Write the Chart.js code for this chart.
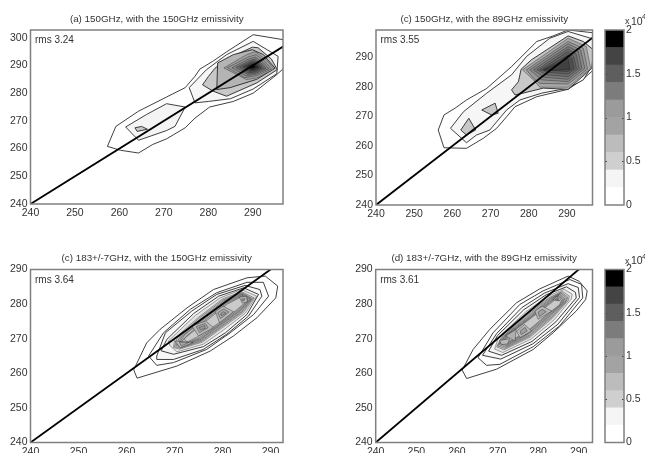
<!DOCTYPE html>
<html><head><meta charset="utf-8">
<script src="https://cdn.jsdelivr.net/npm/chart.js@4"></script>
<style>
html,body{margin:0;padding:0;background:#fff;width:645px;height:453px;overflow:hidden}
canvas{position:absolute;filter:blur(0.5px)}
</style></head><body>
<script>
const xTicks=[240,250,260,270,280,290];
const yTicksA=[240,250,260,270,280,290,300];
const yTicksB=[240,250,260,270,280,290];
const cbarEdges=[0,0.2,0.4,0.6,0.8,1,1.2,1.4,1.6,1.8,2];
const cbarGrays=['#ffffff','#f5f5f5','#cfcfcf','#bcbcbc','#a3a3a3','#9b9b9b','#7c7c7c','#5e5e5e','#444444','#000000'];
const cbarTicks=[0,0.5,1,1.5,2];
const identity=[[240,240],[300,300]];

const panelAContours=[
[[257.3,260.8],[259.2,268],[264.3,273.5],[270.6,278.6],[274.8,282],[277,286.1],[278.1,288.7],[281,291.5],[284.1,294.9],[290.1,301.1],[298,299],[298,290.5],[295.4,286.7],[290.1,280],[285.6,277],[280.3,275],[277,271],[274.8,267.5],[270.6,263.5],[267.5,261.5],[264.3,258.4],[260.2,259.4]],
[[275.7,282],[277.5,285],[279.6,288.5],[284.1,293.9],[290.1,298.7],[295.7,293.3],[295.4,287],[290.1,281.5],[285,278],[280,277],[277,276.5]],
[[261.4,267.8],[266.1,272.3],[270.6,276.2],[274.8,275],[272.5,268],[270.6,266.5],[264.3,263]],
[[263.5,267.5],[265,268],[266.3,267],[264,266.2]],
[[278.7,283],[280,286],[281.5,289],[284.1,292.3],[289.9,296.6],[291.2,296.4],[294.2,292.3],[295.5,288.5],[290.9,283.7],[284.1,278.9],[281.1,280.7]],
[[281.9,281.3],[282.1,290.9],[285.6,293.9],[289.9,295.7],[292.4,293.9],[295,289],[290.9,285],[284.9,282]],
[[283.5,289.1],[288.6,293.9],[290.5,295],[293.1,292],[294.8,288.7],[290.9,285.5],[288.6,284.9]],
[[284.3,289.2],[289,293.1],[290.7,293.9],[292.7,291.5],[294.2,288.7],[290.9,286.3],[288.2,285.6]],
[[285.3,289.2],[289,292.3],[290.6,293],[292.4,291],[293.6,288.8],[290.8,286.8],[288.5,286.2]],
[[286.2,289.3],[289.2,291.7],[290.5,292.3],[292,290.7],[293,288.9],[290.7,287.2],[288.8,286.8]],
[[287,289.4],[289.3,291.2],[290.4,291.7],[291.7,290.4],[292.4,289],[290.6,287.6],[289,287.3]],
[[287.8,289.5],[289.5,290.8],[290.3,291.1],[291.4,290.2],[291.9,289.1],[290.5,288],[289.2,287.9]],
[[288.6,289.6],[289.7,290.4],[290.2,290.6],[291,290],[291.3,289.3],[290.4,288.5],[289.5,288.4]],
[[289.4,289.7],[290,290.2],[290.6,289.7],[290.2,289],[289.6,289]]
];
const panelAFills=['#ffffff','#f6f6f6','#f4f4f4','#c8c8c8','#c8c8c8','#b4b4b4','#a0a0a0','#989898','#888888','#747474','#606060','#484848','#2c2c2c','#000000'];

const panelBContours=[
[[256.3,265.4],[257.8,270.5],[260.7,272.8],[263.7,275.6],[269,279.5],[275.5,286.9],[282.1,295.4],[286.4,297.3],[290.3,299.3],[298,298.2],[298,287],[294.3,282.7],[290.3,279.2],[282.1,276.7],[276.4,273.3],[274.2,269.9],[271.6,266],[268.1,262.6],[263.7,259.2],[257.8,259.4]],
[[259.5,266],[262.9,271.6],[269,277.9],[275.5,284.1],[279.4,290.3],[285.5,296.5],[290.3,298.8],[297,296.2],[297,288],[294.3,282.4],[290.3,279.6],[283.4,277.9],[277.7,275.6],[274.2,272.2],[269.8,265.4],[266.3,263.7],[263.7,261.1]],
[[262.2,265.4],[264.3,269.4],[266.1,265.4],[263.7,263.7]],
[[267.7,272.2],[271.2,274.5],[272,271.1],[270.3,270.5]],
[[275.5,279],[277.3,281.8],[278,286],[280.7,289.2],[290.3,297.3],[294.3,295.4],[297,292.5],[296.5,286.3],[290.3,279.2],[283.8,279.6],[278.5,277.9],[276.4,277.3]],
[[278.4,285.8],[290.3,296.5],[295.1,293.7],[296.2,286.3],[290.3,279.9],[282.9,279.9],[281.2,282.4]],
[[279.4,285.8],[290.3,295.4],[294.3,293.1],[295.4,286.1],[290.3,281],[282.9,281.2],[281.2,283]],
[[280.3,285.8],[290.3,294.6],[293.6,292.5],[294.7,286.3],[290.3,281.8],[283.4,282.4]],
[[281.2,285.8],[290.3,293.7],[293,292],[293.9,286.3],[290.3,282.6],[284,283.3]],
[[282.1,285.8],[290.3,292.9],[292.4,291.2],[293.2,286.3],[290.3,283.5],[284.7,284.1]],
[[282.9,285.8],[290.3,292],[291.8,290.3],[292.5,286.3],[290.3,284.4],[285.5,284.9]],
[[283.6,285.8],[290.3,290.8],[291.3,289.7],[291.8,286.3],[290.3,285.2]],
[[284,285.8],[290.3,289.7],[290.8,286],[286.4,285.5]]
];
const panelBFills=['#ffffff','#f6f6f6','#c8c8c8','#c8c8c8','#c8c8c8','#a8a8a8','#989898','#8a8a8a','#7c7c7c','#6e6e6e','#606060','#505050','#404040'];

const panelCContours=[
[[261.5,261],[264.2,268.8],[267,272.7],[272.6,278.9],[278.1,284.2],[285.1,287.6],[288.9,288.1],[291.5,285.2],[291.1,281.8],[287.2,276.1],[282.3,270.8],[277.4,266.4],[270.5,262.1],[262.2,258.6]],
[[264.6,265],[267.7,271.7],[273.3,278.5],[278.8,283.3],[285.1,286.3],[288.5,286.3],[289.6,282.3],[286.5,277],[281.6,271.7],[276.7,266.9],[269.8,263.1],[266.3,262.3]],
[[266.3,265],[268.1,271.7],[273.6,278],[278.8,282.8],[284.7,285.4],[287.8,284.2],[288.2,282.3],[285.4,276.5],[280.9,271.3],[276,266.9],[269.8,264],[266.3,264]],
[[267.2,266.5],[268.4,269.8],[274,277.3],[279.2,282.3],[284.4,284.7],[287.5,282.8],[285.1,277],[280.6,271.7],[276,267.7],[269.8,265.5]],
[[269.1,267.9],[268.7,269.3],[274.3,276.7],[279.5,281.8],[284,284.2],[287.1,282.3],[284.7,277.3],[280.2,272.5],[276,268.4],[270.5,266.2]],
[[269.8,267.4],[270,270],[275,276.2],[280,281.5],[284,283.6],[286.6,281.8],[284.3,277.5],[279.8,273],[275.8,269],[271,267]],
[[270,267.7],[270.5,270.1],[275.2,276],[280.1,281.2],[284,283.3],[286.3,281.6],[284.1,277.7],[279.6,273.2],[275.7,269.3],[271.2,267.3]],
[[270.3,268],[271,270.3],[275.5,275.8],[280.3,281],[284,283.1],[286.1,281.5],[283.9,277.8],[279.5,273.4],[275.6,269.5],[271.5,267.6]],
[[270.6,268.3],[271.5,270.6],[275.8,275.6],[280.4,280.8],[284,282.9],[285.9,281.4],[283.7,278],[279.3,273.6],[275.5,269.8],[271.8,268]],
[[271,268.6],[272,271],[276,275.5],[280.6,280.5],[284,282.7],[285.7,281.3],[283.5,278.1],[279.2,273.8],[275.4,270],[272,268.3]],
[[271.5,269.2],[272.4,270.6],[276.2,275.2],[280.8,280.2],[284.1,282.5],[285.4,281.1],[283.2,278.2],[279.1,274],[275.2,270.3],[272.3,268.6]],
[[272,270],[276.5,275],[281,280],[284.2,282.3],[285.2,281],[283,278.4],[279,274.3],[275,270.7],[272.6,269]],
[[270.1,269.3],[273.9,268.9],[271.2,267.4]],
[[271,269],[273,268.9],[271.4,267.9]],
[[273.6,273.7],[276.5,275.1],[278.1,273.2],[275,270.8]],
[[274.5,273.5],[276.4,274.4],[277,273.2],[275.2,271.8]],
[[275.1,273.2],[276.3,273.8],[276.4,273],[275.4,272.6]],
[[278.5,277.8],[280.1,279.4],[282.3,277.8],[279.4,274.6]],
[[279,277.5],[280.2,278.6],[281.3,277.7],[279.6,275.8]],
[[279.6,277.2],[280.2,277.8],[280.7,277.4],[279.8,276.6]],
[[283.5,282],[285,282.3],[285.2,280.6],[284.1,280.3]],
[[284,281.5],[284.7,281.6],[284.5,281],[284.1,280.9]]
];
const panelCFills=['#ffffff','#ffffff','#f8f8f8','#f4f4f4','#e4e4e4','#d8d8d8','#cccccc','#c4c4c4','#bcbcbc','#b8b8b8','#bcbcbc','#cacaca','#bcbcbc','#a8a8a8','#b8b8b8','#a8a8a8','#9c9c9c','#b8b8b8','#a8a8a8','#9c9c9c','#b8b8b8','#a0a0a0'];

const panelDContours=[
[[261.3,260.9],[264,266.9],[268.1,272.7],[274.7,280.4],[280.4,284.4],[287.4,288.1],[290.1,286.6],[292.1,283.8],[291.7,281.3],[289.4,278],[283.7,271.7],[278.8,266.9],[269.8,261.2],[262.4,258.5]],
[[265.2,264.5],[268.9,271.7],[275.5,279.9],[281.2,283.8],[287.8,287.1],[290.7,285.7],[291,281.8],[285.3,273.7],[278.8,267.7],[270.6,262.6],[267.3,262.3]],
[[266.3,265.2],[269.8,271.5],[276,279],[281.6,283.2],[287.4,285.9],[289.9,284.8],[290.2,281.9],[284.9,274.2],[278.7,268.5],[270.8,264.1]],
[[267.8,266.4],[270,270.9],[276.5,278.4],[282,282.7],[287,285],[289.2,283.4],[289.4,281.8],[284.4,274.9],[278.5,269.2],[271,265.2]],
[[269.3,267],[270.2,270.3],[277,277.8],[282.3,282.2],[286.4,284.3],[288.4,282.9],[288.2,281.5],[284,275.5],[278.3,269.9],[271.3,266]],
[[269.8,267.6],[270.9,270.2],[277.5,277.3],[282.6,281.8],[286,283.7],[287.7,282.3],[287.4,281],[283.6,276],[278.1,270.5],[271.6,266.8]],
[[270,267.9],[271.2,270.4],[277.7,277.1],[282.7,281.6],[285.8,283.4],[287.3,282],[287,280.8],[283.4,276.2],[278,270.8],[271.8,267.2]],
[[270.3,268.2],[271.6,270.6],[278,276.9],[282.9,281.4],[285.6,283.2],[287,281.8],[286.7,280.6],[283.2,276.4],[277.8,271],[272,267.6]],
[[270.6,268.5],[271.9,270.8],[278.2,276.7],[283,281.2],[285.4,283],[286.6,281.6],[286.3,280.4],[283,276.6],[277.6,271.3],[272.2,268]],
[[271,268.8],[272.3,271],[278.5,276.6],[283.2,281],[285.2,282.8],[286.3,281.4],[286,280.2],[282.8,276.8],[277.5,271.5],[272.4,268.4]],
[[271.4,269],[272.6,271.1],[278.7,276.6],[283.3,280.8],[285.1,282.5],[286,281.2],[285.6,280],[282.6,277],[277.3,271.8],[272.7,268.9]],
[[271.8,269.2],[273,271.3],[279,276.6],[283.5,280.6],[285,282.2],[285.7,281],[285.3,279.8],[282.4,277.2],[277.2,272],[273,269.3]],
[[270.5,269.5],[273,270],[272.5,268.5],[271,268.3]],
[[272,270.8],[274.6,272.7],[274.3,269.3]],
[[274.7,272.2],[276.7,274.1],[278.4,272.2],[275.5,270.3]],
[[275.6,272.2],[276.8,273.3],[277.3,272.2],[275.8,271.2]],
[[279.2,278],[281,279.4],[283.4,278],[280,275.6]],
[[280,277.7],[281,278.5],[282,277.8],[280.3,276.4]],
[[283.7,281.2],[284.7,282.3],[285.3,280.9]],
[[284.2,281.3],[284.7,281.8],[285,281.1]]
];
const panelDFills=['#ffffff','#ffffff','#f8f8f8','#f4f4f4','#e4e4e4','#d8d8d8','#cccccc','#c4c4c4','#bcbcbc','#b8b8b8','#bcbcbc','#cacaca','#b8b8b8','#b0b0b0','#b8b8b8','#a0a0a0','#b8b8b8','#a0a0a0','#b8b8b8','#a0a0a0'];

const titles=['(a) 150GHz, with the 150GHz emissivity','(c) 150GHz, with the 89GHz emissivity','(c) 183+/-7GHz, with the 150GHz emissivity','(d) 183+/-7GHz, with the 89GHz emissivity'];
const rmsLabels=['rms 3.24','rms 3.55','rms 3.64','rms 3.61'];

const FONT='"Liberation Sans",Arial,sans-serif';
const TEXT='#333333', FRAME='#808080';

function addCanvas(l,t,w,h){
  const c=document.createElement('canvas');
  c.width=w;c.height=h;c.style.left=l+'px';c.style.top=t+'px';c.style.width=w+'px';c.style.height=h+'px';
  document.body.appendChild(c);return c;
}
const pts=a=>a.map(p=>({x:p[0],y:p[1]}));
const framePlugin={id:'frame',afterDatasetsDraw(ch){
  const a=ch.chartArea,x=ch.ctx;x.save();x.strokeStyle=FRAME;x.lineWidth=1.5;
  x.strokeRect(a.left,a.top,a.right-a.left,a.bottom-a.top);x.restore();
}};
function panel(box,plot,xMax,yMax,yTicks,polys,fills,title,rms,softFrom){
  const c=addCanvas(box.l,box.t,box.w,box.h);
  const ds=[{data:pts(identity),showLine:true,borderColor:'#000',borderWidth:1.8,pointRadius:0,fill:false}];
  for(let i=polys.length-1;i>=0;i--){
    const p=polys[i].concat([polys[i][0]]);
    const soft=i>=softFrom;
    ds.push({data:pts(p),showLine:true,borderColor:soft?'rgba(30,30,30,0.5)':'rgba(30,30,30,0.85)',borderWidth:soft?0.8:1,backgroundColor:fills[i],pointRadius:0,fill:'shape',tension:0});
  }
  const rmsPlugin={id:'rms',afterDatasetsDraw(ch){
    const x=ch.ctx;x.save();x.font='10px '+FONT;x.fillStyle=TEXT;x.textBaseline='middle';
    x.fillText(rms,ch.chartArea.left+4.5,ch.chartArea.top+10.5);x.restore();
  }};
  new Chart(c,{type:'scatter',data:{datasets:ds},plugins:[framePlugin,rmsPlugin],options:{
    responsive:false,animation:false,events:[],
    layout:{padding:{left:0,right:box.l+box.w-plot.r,top:0,bottom:0}},
    plugins:{legend:{display:false},tooltip:{enabled:false},
      title:{display:true,text:title,color:TEXT,fullSize:false,font:{family:FONT,size:9.8,lineHeight:'12px',weight:'normal'},
        padding:{top:plot.t-box.t-17,bottom:5}}},
    scales:{
      x:{type:'linear',min:240,max:xMax,
        afterBuildTicks(s){s.ticks=xTicks.map(v=>({value:v}));},
        afterFit(s){s.height=box.t+box.h-plot.b;},
        grid:{display:false,drawTicks:false},border:{display:false},
        ticks:{color:TEXT,font:{family:FONT,size:10.5},padding:3,maxRotation:0,autoSkip:false,callback:v=>String(v)}},
      y:{type:'linear',min:240,max:yMax,
        afterBuildTicks(s){s.ticks=yTicks.map(v=>({value:v}));},
        afterFit(s){s.width=plot.l-box.l;},
        grid:{display:false,drawTicks:false},border:{display:false},
        ticks:{color:TEXT,font:{family:FONT,size:10.5},padding:3,autoSkip:false,callback:v=>String(v)}}
    }}});
}
function colorbar(t,h,plotT,plotB){
  const c=addCanvas(598,t,47,h);
  const ds=cbarGrays.map((g,i)=>({data:[[cbarEdges[i],cbarEdges[i+1]]],backgroundColor:g,borderWidth:0,categoryPercentage:1,barPercentage:1,grouped:false}));
  const deco={id:'deco',afterDatasetsDraw(ch){
    const a=ch.chartArea,x=ch.ctx,s=ch.scales.y;x.save();
    x.strokeStyle='#444';x.lineWidth=1;
    cbarTicks.slice(1,-1).forEach(v=>{const y=Math.round(s.getPixelForValue(v))+0.5;
      x.beginPath();x.moveTo(a.left,y);x.lineTo(a.left+2,y);x.moveTo(a.right-2,y);x.lineTo(a.right,y);x.stroke();});
    x.strokeStyle=FRAME;x.lineWidth=1.5;x.strokeRect(a.left,a.top,a.right-a.left,a.bottom-a.top);
    x.fillStyle=TEXT;x.textBaseline='middle';x.font='9px '+FONT;
    x.fillText('x',a.right+1,a.top-8);x.font='10.5px '+FONT;x.fillText('10',a.right+7,a.top-8);
    x.font='7.5px '+FONT;x.fillText('4',a.right+18,a.top-13);
    x.restore();
  }};
  new Chart(c,{type:'bar',data:{labels:[''],datasets:ds},plugins:[deco],options:{
    responsive:false,animation:false,events:[],
    layout:{padding:{left:7,right:0,top:plotT-t,bottom:t+h-plotB}},
    plugins:{legend:{display:false},tooltip:{enabled:false}},
    scales:{
      x:{display:false,stacked:false},
      y:{position:'right',type:'linear',min:0,max:2,
        afterBuildTicks(s){s.ticks=cbarTicks.map(v=>({value:v}));},
        afterFit(s){s.width=21;},
        grid:{display:false,drawTicks:false},border:{display:false},
        ticks:{color:TEXT,font:{family:FONT,size:10.5},padding:2,autoSkip:false,callback:v=>String(v)}}
    }}});
}
panel({l:0,t:0,w:320,h:226},{l:30.5,r:283,t:30,b:204},296.8,302.8,yTicksA,panelAContours,panelAFills,titles[0],rmsLabels[0],6);
panel({l:320,t:0,w:278,h:226},{l:376,r:592.5,t:30,b:205},296.7,299.3,yTicksB,panelBContours,panelBFills,titles[1],rmsLabels[1],5);
panel({l:0,t:226,w:320,h:227},{l:30.5,r:283,t:269.5,b:442.5},292.6,290,yTicksB,panelCContours,panelCFills,titles[2],rmsLabels[2],4);
panel({l:320,t:226,w:278,h:227},{l:375.7,r:592.5,t:269.5,b:442.5},293.4,290,yTicksB,panelDContours,panelDFills,titles[3],rmsLabels[3],4);
colorbar(0,226,30,205);
colorbar(226,227,269.5,442.5);
</script>
</body></html>
